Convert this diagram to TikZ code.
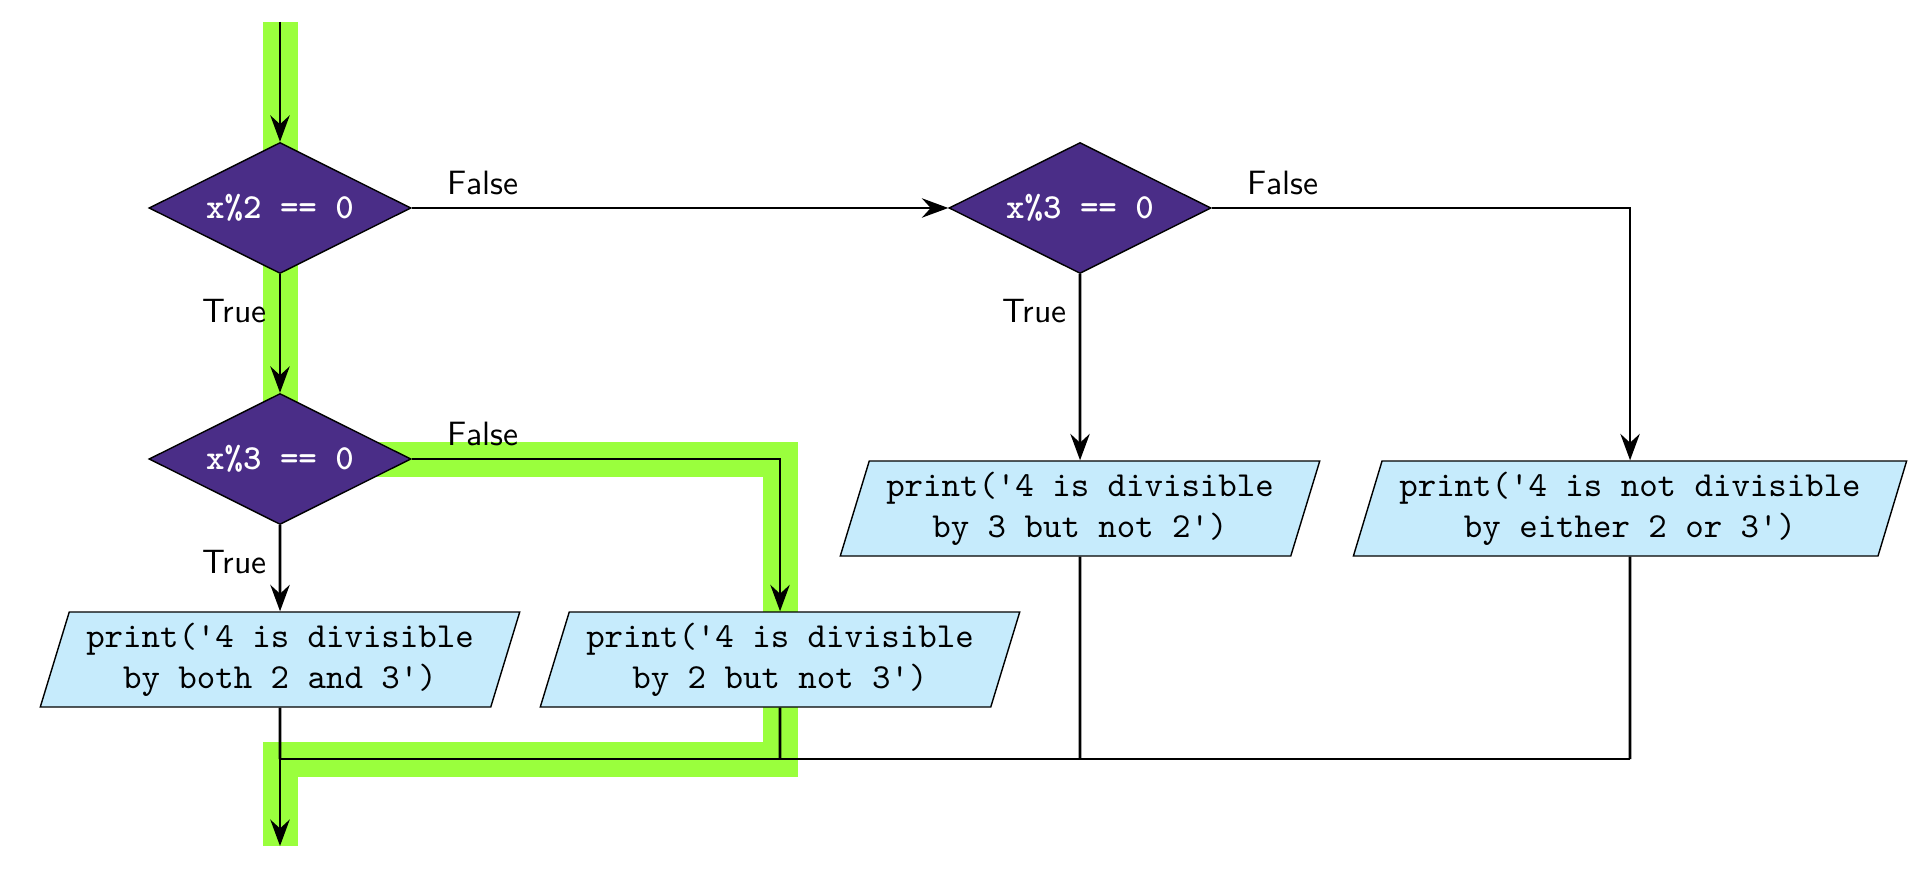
\documentclass[tikz,border=0pt]{standalone}
\usetikzlibrary{shapes.geometric, arrows.meta, positioning, backgrounds}

\definecolor{decisionpurple}{RGB}{74,45,135}
\definecolor{printblue}{RGB}{198,235,252}
\definecolor{pathgreen}{RGB}{154,255,61}

\begin{document}
\begin{tikzpicture}[
    every node/.append style={font=\fontsize{9.6}{11.6}\selectfont},
    node distance=2.5cm,
    decision/.style={diamond, aspect=2, draw=black, fill=decisionpurple, text=white, font=\fontsize{10}{11.6}\selectfont\ttfamily\bfseries, minimum width=2.62cm, minimum height=1.31cm, inner sep=0pt},
    statement/.style={trapezium, trapezium left angle=70, trapezium right angle=110, trapezium stretches=true, draw=black, fill=printblue, font=\fontsize{10}{11.6}\selectfont\ttfamily, align=center, minimum width=4.8cm, minimum height=0.95cm, inner sep=0pt},
    answer/.style={font=\fontsize{9.6}{11.6}\selectfont\sffamily},
    arrow/.style={thick, ->, >={Stealth[length=7.5pt, width=5.5pt, inset=2.5pt]}},
    joinline/.style={thick},
    highlight/.style={line width=0.35cm, draw=pathgreen, line join=miter}
]
    \useasboundingbox (0,0) rectangle (19.32,-8.81);

    % Tests
    \coordinate (start) at (2.80,-0.22);
    \node[decision] (mod2) at (2.80,-2.08) {x\%2 == 0};
    \node[decision, below of=mod2, node distance=2.51cm] (mod3a) {x\%3 == 0};
    \node[decision, right of=mod2, node distance=8cm] (mod3b) {x\%3 == 0};

    % Prints
    \node[statement, below of=mod3a, node distance=2.005cm] (both) {print(\textquotesingle 4 is divisible\\by both 2 and 3\textquotesingle)};
    \node[statement, right of=both, node distance=5cm] (two) {print(\textquotesingle 4 is divisible\\by 2 but not 3\textquotesingle)};
    \node[statement, below of=mod3b, node distance=3.005cm] (three) {print(\textquotesingle 4 is divisible\\by 3 but not 2\textquotesingle)};
    \node[statement, right of=three, node distance=5.5cm, minimum width=5.54cm] (neither) {print(\textquotesingle 4 is not divisible\\by either 2 or 3\textquotesingle)};

    \coordinate (join) at (2.80,-7.59);
    \coordinate (stop) at (2.80,-8.46);

    % Path taken for x = 4
    \begin{pgfonlayer}{background}
        \draw[highlight] (start) -- (mod3a.center) -| (two.center) |- (join) -- (stop);
    \end{pgfonlayer}

    % Arrows
    \draw[arrow] (start) -- (mod2);
    \draw[arrow] (mod2) -- node[answer, pos=0, below left, yshift=-1.2mm] {True} (mod3a);
    \draw[arrow] (mod2) -- node[answer, pos=0, above right, xshift=2.3mm] {False} (mod3b);
    \draw[arrow] (mod3a) -- node[answer, pos=0, below left, yshift=-1.2mm] {True} (both);
    \draw[arrow] (mod3a) -| node[answer, pos=0, above right, xshift=2.3mm] {False} (two);
    \draw[arrow] (mod3b) -- node[answer, pos=0, below left, yshift=-1.2mm] {True} (three);
    \draw[arrow] (mod3b) -| node[answer, pos=0, above right, xshift=2.3mm] {False} (neither);

    % Merge
    \draw[joinline] (both) -- (join);
    \draw[joinline] (two) -- (two |- join);
    \draw[joinline] (three) -- (three |- join);
    \draw[joinline] (neither) -- (neither |- join);
    \draw[joinline] (join) -- (neither |- join);
    \draw[arrow] (join) -- (stop);
\end{tikzpicture}
\end{document}
